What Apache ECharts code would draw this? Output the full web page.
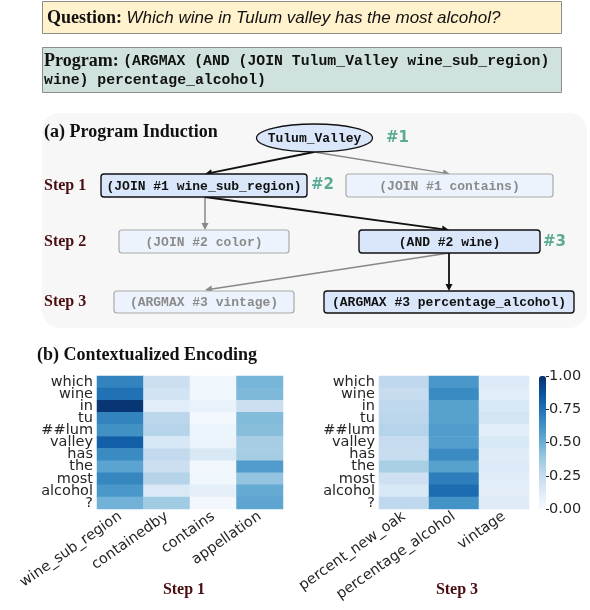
<!DOCTYPE html>
<html>
<head>
<meta charset="utf-8">
<script src="https://cdn.jsdelivr.net/npm/echarts@6/dist/echarts.min.js"></script>
<style>
  html, body { margin: 0; padding: 0; background: #fff; }
  #chart { width: 590px; height: 610px; }
</style>
</head>
<body>
<div id="chart"></div>
<script>
// tokens of the question (heatmap rows)
const tokens = ['which', 'wine', 'in', 'tu', '##lum', 'valley', 'has', 'the', 'most', 'alcohol', '?']

// step 1 candidates and their attention per token
const step1Cols = ['wine_sub_region', 'containedby', 'contains', 'appellation']
const wineSubRegion = [0.68, 0.75, 0.98, 0.68, 0.63, 0.82, 0.65, 0.55, 0.67, 0.60, 0.48]
const containedby = [0.22, 0.19, 0.11, 0.28, 0.30, 0.16, 0.26, 0.22, 0.30, 0.14, 0.37]
const contains = [0.04, 0.04, 0.07, 0.02, 0.05, 0.06, 0.15, 0.03, 0.04, 0.09, 0.02]
const appellation = [0.47, 0.45, 0.22, 0.44, 0.43, 0.35, 0.35, 0.58, 0.40, 0.52, 0.54]

// step 3 candidates
const step3Cols = ['percent_new_oak', 'percentage_alcohol', 'vintage']
const percentNewOak = [0.27, 0.24, 0.27, 0.28, 0.30, 0.25, 0.24, 0.34, 0.21, 0.15, 0.27]
const percentageAlcohol = [0.60, 0.65, 0.56, 0.56, 0.58, 0.57, 0.65, 0.56, 0.70, 0.77, 0.62]
const vintage = [0.13, 0.11, 0.15, 0.18, 0.11, 0.15, 0.12, 0.13, 0.11, 0.10, 0.12]

// colorbar scale
const cbarMin = 0
const cbarMax = 1
const cbarStep = 0.25

const blues = ['#f7fbff', '#deebf7', '#c6dbef', '#9ecae1', '#6baed6', '#4292c6', '#2171b5', '#08519c', '#08306b']

function toCells(columns) {
  const out = []
  columns.forEach((col, i) => col.forEach((v, j) => out.push([i, j, v])))
  return out
}

const chart = echarts.init(document.getElementById('chart'))

const serif = '"Liberation Serif", "Times New Roman", serif'
const mono = '"Liberation Mono", "Courier New", monospace'
const sans = '"DejaVu Sans", sans-serif'
const maroon = '#4a0e10'
const teal = '#5aab94'

// helper: straight arrow with a filled head
function arrow(x1, y1, x2, y2, color, w) {
  const dx = x2 - x1, dy = y2 - y1
  const len = Math.sqrt(dx * dx + dy * dy)
  const ux = dx / len, uy = dy / len
  const hl = 7, hw = 3.5
  const bx = x2 - ux * hl, by = y2 - uy * hl
  return [
    { type: 'line', shape: { x1: x1, y1: y1, x2: bx, y2: by }, style: { stroke: color, lineWidth: w } },
    { type: 'polygon', shape: { points: [[x2, y2], [bx - uy * hw, by + ux * hw], [bx + uy * hw, by - ux * hw]] }, style: { fill: color } }
  ]
}

function box(x1, y1, x2, y2, label, active) {
  return [
    {
      type: 'rect',
      shape: { x: x1, y: y1, width: x2 - x1, height: y2 - y1, r: 3 },
      style: { fill: active ? '#dae7fa' : '#edf3fc', stroke: active ? '#111' : '#aaa', lineWidth: active ? 1.4 : 1.2 }
    },
    {
      type: 'text',
      x: (x1 + x2) / 2, y: (y1 + y2) / 2 + 1,
      style: { text: label, font: 'bold 13px ' + mono, fill: active ? '#111' : '#8a8a8a', align: 'center', verticalAlign: 'middle' }
    }
  ]
}

function label(x, y, text, font, fill, align) {
  return { type: 'text', x: x, y: y, style: { text: text, font: font, fill: fill, align: align || 'left', verticalAlign: 'middle' } }
}

const graphics = [
  // question box
  { type: 'rect', shape: { x: 42.5, y: 1.5, width: 519, height: 32 }, style: { fill: '#fff2cc', stroke: '#8c8c8c', lineWidth: 1 } },
  {
    type: 'text', x: 47, y: 18,
    style: {
      text: '{b|Question: }{i|Which wine in Tulum valley has the most alcohol?}',
      verticalAlign: 'middle',
      rich: {
        b: { font: 'bold 18px ' + serif, fill: '#111' },
        i: { font: 'italic 17px "Liberation Sans", Arial, sans-serif', fill: '#111' }
      }
    }
  },
  // program box
  { type: 'rect', shape: { x: 42.5, y: 47.5, width: 519, height: 45 }, style: { fill: '#d0e2dd', stroke: '#8c8c8c', lineWidth: 1 } },
  {
    type: 'text', x: 44, y: 61,
    style: {
      text: '{b|Program: }{m|(ARGMAX (AND (JOIN Tulum_Valley wine_sub_region)}',
      verticalAlign: 'middle',
      rich: {
        b: { font: 'bold 18px ' + serif, fill: '#111' },
        m: { font: 'bold 14.8px ' + mono, fill: '#111' }
      }
    }
  },
  label(44, 80, 'wine) percentage_alcohol)', 'bold 14.8px ' + mono, '#111'),

  // program induction panel
  { type: 'rect', shape: { x: 42, y: 113, width: 545, height: 215, r: 18 }, style: { fill: '#f7f7f7' } },
  label(44, 132, '(a) Program Induction', 'bold 18px ' + serif, '#111'),
  label(44, 186, 'Step 1', 'bold 16px ' + serif, maroon),
  label(44, 242, 'Step 2', 'bold 16px ' + serif, maroon),
  label(44, 302, 'Step 3', 'bold 16px ' + serif, maroon),

  ...arrow(314, 152, 205, 174, '#111', 1.8),
  ...arrow(314, 152, 450, 174, '#888', 1.5),
  ...arrow(205, 197, 205, 230, '#888', 1.5),
  ...arrow(205, 197, 449, 230, '#111', 1.8),
  ...arrow(449, 253, 205, 290, '#888', 1.5),
  ...arrow(449, 253, 449, 291, '#111', 1.8),

  { type: 'ellipse', shape: { cx: 314.5, cy: 138, rx: 58, ry: 14 }, style: { fill: '#dae7fa', stroke: '#111', lineWidth: 1.3 } },
  label(314.5, 139, 'Tulum_Valley', 'bold 13px ' + mono, '#111', 'center'),
  label(386, 138, '#1', 'bold 15px ' + sans, teal),

  ...box(101, 174, 307, 197, '(JOIN #1 wine_sub_region)', true),
  label(311, 185, '#2', 'bold 15px ' + sans, teal),
  ...box(346, 174, 553, 197, '(JOIN #1 contains)', false),
  ...box(119, 230, 289, 253, '(JOIN #2 color)', false),
  ...box(359, 230, 540, 253, '(AND #2 wine)', true),
  label(543, 242, '#3', 'bold 15px ' + sans, teal),
  ...box(114, 291, 294, 313, '(ARGMAX #3 vintage)', false),
  ...box(324, 291, 574, 313, '(ARGMAX #3 percentage_alcohol)', true),

  // contextualized encoding
  label(37, 355, '(b) Contextualized Encoding', 'bold 18px ' + serif, '#111'),
  label(184, 590, 'Step 1', 'bold 16px ' + serif, maroon, 'center'),
  label(457, 590, 'Step 3', 'bold 16px ' + serif, maroon, 'center')
]

const catX = (data) => ({
  type: 'category', data: data,
  axisLine: { show: false }, axisTick: { show: false }, splitLine: { show: false },
  axisLabel: { interval: 0, rotate: 35, margin: 6, fontSize: 14.5, fontFamily: sans, color: '#262626' }
})
const catY = {
  type: 'category', data: tokens, inverse: true,
  axisLine: { show: false }, axisTick: { show: false }, splitLine: { show: false },
  axisLabel: { interval: 0, margin: 4, fontSize: 14.5, lineHeight: 12, fontFamily: sans, color: '#262626' }
}

const option = {
  backgroundColor: '#fff',
  animation: false,
  grid: [
    { left: 97, top: 376, width: 186, height: 133 },
    { left: 379, top: 376, width: 150, height: 133 },
    { left: 539, top: 376, width: 7, height: 133 }
  ],
  xAxis: [
    Object.assign(catX(step1Cols), { gridIndex: 0 }),
    Object.assign(catX(step3Cols), { gridIndex: 1 }),
    { type: 'category', data: [''], gridIndex: 2, show: false }
  ],
  yAxis: [
    Object.assign({}, catY, { gridIndex: 0 }),
    Object.assign({}, catY, { gridIndex: 1 }),
    {
      type: 'value', gridIndex: 2, position: 'right',
      min: cbarMin, max: cbarMax, interval: cbarStep,
      axisLine: { show: false }, splitLine: { show: false },
      axisTick: { show: true, length: 3, lineStyle: { color: '#262626' } },
      axisLabel: { margin: 3, fontSize: 14.5, fontFamily: sans, color: '#262626', formatter: (v) => v.toFixed(2) }
    }
  ],
  visualMap: {
    type: 'continuous', min: cbarMin, max: cbarMax, seriesIndex: [0, 1],
    calculable: false, left: 539, top: 376, itemWidth: 7, itemHeight: 133,
    padding: 0, text: null, showLabel: false,
    inRange: { color: blues }
  },
  series: [
    {
      type: 'heatmap', xAxisIndex: 0, yAxisIndex: 0,
      data: toCells([wineSubRegion, containedby, contains, appellation])
    },
    {
      type: 'heatmap', xAxisIndex: 1, yAxisIndex: 1,
      data: toCells([percentNewOak, percentageAlcohol, vintage])
    }
  ],
  graphic: graphics
}

chart.setOption(option)
</script>
</body>
</html>
